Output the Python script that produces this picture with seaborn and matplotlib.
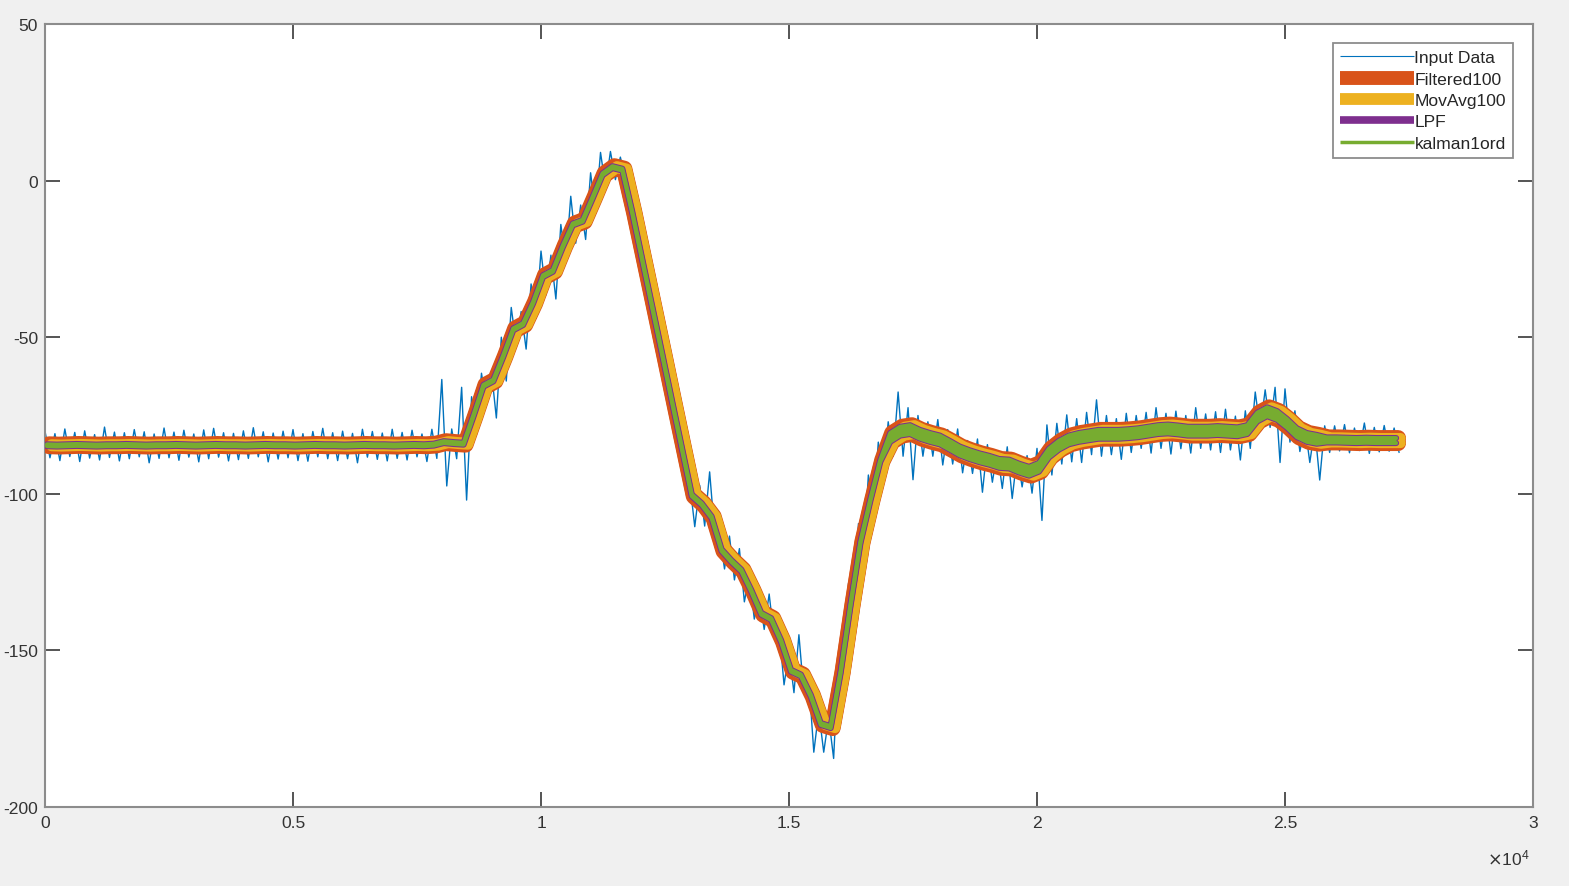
import numpy as np
import matplotlib
matplotlib.use("Agg")
import matplotlib.pyplot as plt
from matplotlib.lines import Line2D
from matplotlib.ticker import FuncFormatter
import seaborn as sns

# ---------------- data ----------------
sample_idx = np.arange(0, 27201, 200)  # sample positions of the read values

# smooth trend of the signal (value at each sample position)
trend = [
    -84.5, -84.6, -84.5, -84.4, -84.5, -84.6, -84.5, -84.5, -84.4, -84.5,
    -84.6, -84.5, -84.5, -84.4, -84.5, -84.6, -84.5, -84.4, -84.5, -84.5,
    -84.6, -84.5, -84.4, -84.5, -84.5, -84.6, -84.5, -84.4, -84.5, -84.5,
    -84.6, -84.5, -84.4, -84.5, -84.5, -84.6, -84.5, -84.4, -84.5, -84.3,
    -83.5, -83.8, -84.0, -75.0, -65.5, -63.8, -56.0, -47.5, -45.8, -39.0,
    -30.5, -28.8, -21.0, -14.0, -12.8, -5.5, 2.0, 4.3, 3.5, -10.2,
    -25.2, -40.2, -55.2, -70.4, -85.4, -100.5, -103.3, -107.5, -118.0, -121.5,
    -124.5, -131.0, -138.3, -140.0, -147.0, -156.5, -158.0, -164.5, -173.5, -174.5,
    -157.0, -135.5, -115.5, -102.0, -89.5, -82.0, -80.0, -79.5, -81.0, -82.0,
    -82.8, -84.5, -86.3, -87.5, -88.5, -89.3, -90.3, -90.5, -91.8, -92.8,
    -91.5, -87.0, -84.5, -82.8, -82.0, -81.5, -81.0, -81.0, -81.0, -80.8,
    -80.5, -80.0, -79.5, -79.3, -79.6, -80.0, -80.0, -80.0, -79.8, -80.0,
    -80.2, -79.5, -75.5, -73.8, -75.0, -77.5, -80.5, -82.0, -82.6, -82.8,
    -82.8, -82.9, -83.0, -82.9, -83.0, -83.0, -83.0,
]

# how far the raw input reaches above / below the trend at each position
noise_up = [
    4.5, 3.8, 5.2, 4.0, 4.6, 3.5, 5.8, 4.2, 3.9, 5.0,
    4.4, 3.6, 5.5, 4.1, 4.8, 3.7, 4.9, 5.3, 4.0, 3.8,
    4.7, 5.6, 4.2, 3.9, 4.5, 5.1, 3.7, 4.3, 5.4, 4.0,
    4.6, 3.8, 5.0, 4.4, 3.9, 5.2, 4.1, 4.7, 3.6, 4.9,
    20.0, 4.5, 18.0, 6.0, 4.0, 3.0, 6.0, 7.0, 4.0, 6.0,
    8.0, 5.0, 7.0, 9.0, 5.0, 8.0, 7.0, 5.0, 4.0, 3.0,
    3.5, 3.0, 4.0, 3.0, 3.0, 4.0, 6.0, 14.5, 5.0, 8.0,
    7.0, 5.0, 6.0, 8.0, 4.0, 6.0, 13.0, 5.0, 4.0, 3.0,
    6.0, 7.0, 6.0, 8.0, 6.0, 5.0, 12.5, 7.0, 6.0, 5.0,
    6.5, 5.0, 7.0, 4.5, 6.0, 5.0, 4.0, 5.5, 4.0, 5.0,
    6.0, 9.0, 7.0, 8.0, 6.0, 7.5, 11.0, 6.0, 5.0, 6.5,
    5.5, 6.0, 7.0, 5.0, 6.0, 5.0, 7.5, 5.5, 6.0, 7.0,
    5.0, 6.0, 8.0, 7.0, 9.0, 11.0, 7.0, 4.0, 3.5, 4.5,
    4.5, 5.0, 4.0, 5.5, 4.2, 4.8, 4.0,
]
noise_down = [
    4.0, 4.8, 3.6, 5.3, 4.1, 4.6, 3.9, 5.0, 4.4, 3.7,
    5.5, 4.2, 4.0, 4.9, 3.8, 5.2, 4.3, 3.9, 5.0, 4.6,
    4.1, 3.7, 5.4, 4.4, 4.0, 4.8, 5.1, 3.8, 4.3, 4.9,
    4.2, 5.6, 3.9, 4.5, 5.0, 4.1, 4.7, 3.8, 5.2, 4.4,
    14.0, 5.0, 18.0, 6.0, 6.0, 12.0, 8.0, 5.0, 8.0, 5.0,
    6.0, 9.0, 5.0, 6.0, 6.0, 5.0, 4.0, 4.0, 3.0, 3.0,
    3.0, 4.0, 3.0, 3.5, 5.0, 10.0, 7.0, 5.0, 6.0, 6.0,
    10.0, 9.0, 5.0, 6.0, 14.0, 7.0, 6.0, 18.0, 9.0, 10.0,
    5.0, 4.0, 5.0, 4.0, 5.0, 6.0, 8.0, 16.0, 7.0, 6.0,
    8.0, 6.0, 7.0, 6.0, 11.0, 7.0, 8.0, 11.0, 6.0, 7.0,
    17.0, 7.0, 6.0, 7.0, 8.0, 6.0, 7.0, 6.5, 8.0, 6.0,
    5.0, 7.0, 6.0, 8.0, 6.0, 7.0, 5.5, 6.0, 7.0, 6.0,
    9.0, 6.0, 4.0, 5.0, 15.0, 6.0, 6.0, 8.0, 13.0, 4.0,
    3.5, 4.0, 3.2, 4.2, 3.6, 3.4, 3.8,
]

# ripple band of the filter outputs (quiet part / noisy part / tail)
filter_ripple = [0.3] * 85 + [1.4] * 44 + [0.8] * 8

# delay (in samples) of each filter output
lag_filtered = 80
lag_movavg = 130
lag_lpf = 40
lag_kalman = 40

series_names = ["Input Data", "Filtered100", "MovAvg100", "LPF", "kalman1ord"]
series_colors = ["#0072BD", "#D95319", "#EDB120", "#7E2F8E", "#77AC30"]

# ---------------- style ----------------
sns.set_theme(style="white")
plt.rcParams["font.family"] = ["Liberation Sans", "DejaVu Sans"]
plt.rcParams["axes.unicode_minus"] = False

fig = plt.figure(figsize=(15.69, 8.87), dpi=100, facecolor="#f0f0f0")
ax = fig.add_axes([45 / 1569, 1 - 808 / 887, (1533 - 45) / 1569, (808 - 25) / 887])
ax.set_facecolor("white")

x = np.asarray(sample_idx, dtype=float)
c = np.asarray(trend)
r = np.asarray(filter_ripple)
assert len(c) == len(x) == len(noise_up) == len(noise_down) == len(r)

# Input data: alternate between the read upper and lower reach
xs = np.column_stack([x, x + 100]).ravel()
ys = np.column_stack([c + np.asarray(noise_up), c - np.asarray(noise_down)]).ravel()
sns.lineplot(x=xs, y=ys, ax=ax, color=series_colors[0], lw=1.0, sort=False,
             estimator=None, legend=False, zorder=2)


def band(lag, color, lw, z, fill=False):
    xx = x + lag
    if fill:
        ax.fill_between(xx, c - r, c + r, color=color, lw=0, zorder=z)
    for yy in (c + r, c - r):
        sns.lineplot(x=xx, y=yy, ax=ax, color=color, lw=lw, sort=False,
                     estimator=None, legend=False, zorder=z)


band(lag_filtered, series_colors[1], 11.5, 3)
band(lag_movavg, series_colors[2], 7.3, 4)
band(lag_lpf, series_colors[3], 4.4, 5)
band(lag_kalman, series_colors[4], 2.9, 6, fill=True)

# ---------------- axes ----------------
ax.set_xlim(0, 30000)
ax.set_ylim(-200, 50)
ax.set_xticks(np.arange(0, 30001, 5000))
ax.set_yticks(np.arange(-200, 51, 50))
ax.xaxis.set_major_formatter(FuncFormatter(lambda v, p: f"{v / 1e4:g}"))
ax.set_xlabel("")
ax.set_ylabel("")
ax.tick_params(direction="in", length=10.5, width=1.1, color="#262626",
               labelcolor="#333333", labelsize=12.6, top=True, right=True,
               bottom=True, left=True)
ax.tick_params(axis="x", pad=6)
ax.tick_params(axis="y", pad=5)
for s in ax.spines.values():
    s.set_visible(True)
    s.set_color("#8c8c8c")
    s.set_linewidth(1.5)

fig.text(1530 / 1569, 1 - 858 / 887, r"$\times\mathregular{10^{4}}$",
         ha="right", va="center", fontsize=12.6, color="#333333")

# ---------------- legend ----------------
handle_widths = [0.8, 10, 8.5, 5.5, 2.5]
handles = [Line2D([0], [0], color=col, lw=w, solid_capstyle="butt")
           for col, w in zip(series_colors, handle_widths)]
leg = ax.legend(handles, series_names, loc="upper right",
                bbox_to_anchor=((1513 - 45) / 1488, 1 - (44 - 25) / 783),
                borderaxespad=0, frameon=True, fancybox=False, framealpha=1,
                facecolor="white", edgecolor="#8c8c8c", fontsize=12.6,
                handlelength=4.2, handletextpad=0.05, labelspacing=0.35,
                borderpad=0.4)
leg.get_frame().set_linewidth(1.3)
for t in leg.get_texts():
    t.set_color("#262626")

fig.savefig("out.png", dpi=100, facecolor=fig.get_facecolor())
